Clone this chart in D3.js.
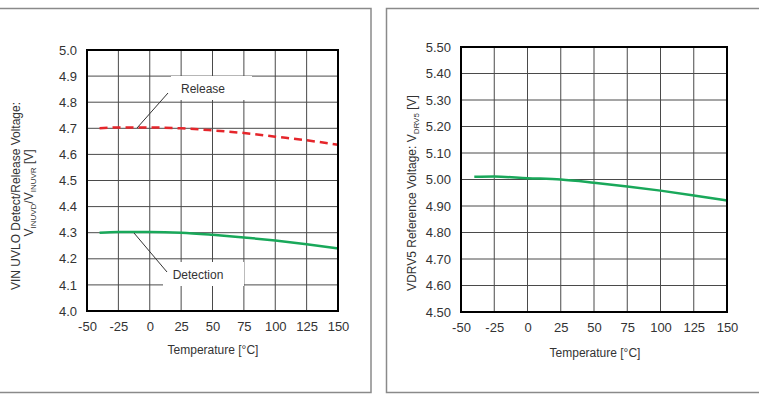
<!DOCTYPE html>
<html><head><meta charset="utf-8">
<script src="https://cdn.jsdelivr.net/npm/d3@7"></script>
<style>
body{margin:0;background:#fff;}
svg{display:block;font-family:"Liberation Sans",Arial,sans-serif;}
</style></head>
<body>
<svg id="c" width="759" height="394"></svg>
<script>
// ---------- data ----------
const temps = [-40, -25, 0, 25, 50, 75, 100, 125, 150];
const releaseV = [4.700, 4.703, 4.703, 4.700, 4.692, 4.682, 4.668, 4.654, 4.637];
const detectV  = [4.300, 4.303, 4.303, 4.300, 4.292, 4.282, 4.270, 4.256, 4.240];
const vdrv5V   = [5.010, 5.011, 5.005, 5.000, 4.988, 4.974, 4.958, 4.940, 4.921];
const xTicks = [-50, -25, 0, 25, 50, 75, 100, 125, 150];
const yTicksL = [4.0, 4.1, 4.2, 4.3, 4.4, 4.5, 4.6, 4.7, 4.8, 4.9, 5.0];
const yTicksR = [4.5, 4.6, 4.7, 4.8, 4.9, 5.0, 5.1, 5.2, 5.3, 5.4, 5.5];

const svg = d3.select("#c");
const RED = "#e5262b", GREEN = "#19a85a";
const FONT = "Liberation Sans, Arial, sans-serif";

// panel borders
svg.append("rect").attr("x", -2).attr("y", 8.5).attr("width", 373).attr("height", 384)
  .attr("fill", "none").attr("stroke", "#8a8a8a").attr("stroke-width", 1.5);
svg.append("rect").attr("x", 386.5).attr("y", 8.5).attr("width", 380).attr("height", 384)
  .attr("fill", "none").attr("stroke", "#8a8a8a").attr("stroke-width", 1.5);

function panel(o) {
  const x = d3.scaleLinear().domain([-50, 150]).range([o.l, o.r]);
  const y = d3.scaleLinear().domain(o.yDomain).range([o.b, o.t]);
  const g = svg.append("g");
  g.selectAll(".gx").data(xTicks).join("line")
    .attr("x1", d => x(d)).attr("x2", d => x(d)).attr("y1", o.t).attr("y2", o.b)
    .attr("stroke", "#4a4a4a").attr("stroke-width", 1);
  g.selectAll(".gy").data(o.yTicks).join("line")
    .attr("y1", d => y(d)).attr("y2", d => y(d)).attr("x1", o.l).attr("x2", o.r)
    .attr("stroke", "#4a4a4a").attr("stroke-width", 1);
  (o.notes || []).forEach(n => {
    g.append("rect").attr("x", n.bx).attr("y", n.by).attr("width", n.bw).attr("height", n.bh).attr("fill", "#fff");
  });
  const line = d3.line().x((d, i) => x(temps[i])).y(d => y(d)).curve(d3.curveMonotoneX);
  o.series.forEach(s => {
    g.append("path").datum(s.values).attr("d", line).attr("fill", "none")
      .attr("stroke", s.color).attr("stroke-width", 2.5)
      .attr("stroke-dasharray", s.dash || null);
  });
  (o.notes || []).forEach(n => {
    g.append("line").attr("x1", n.lx1).attr("y1", n.ly1).attr("x2", n.lx2).attr("y2", n.ly2)
      .attr("stroke", "#333").attr("stroke-width", 1);
    g.append("text").attr("x", n.tx).attr("y", n.ty).attr("text-anchor", "middle")
      .attr("dominant-baseline", "central").attr("font-size", 12).attr("fill", "#333").text(n.text);
  });
  g.append("rect").attr("x", o.l).attr("y", o.t).attr("width", o.r - o.l).attr("height", o.b - o.t)
    .attr("fill", "none").attr("stroke", "#000").attr("stroke-width", 2);
  const ax = d3.axisBottom(x).tickValues(xTicks).tickSize(0).tickPadding(11).tickFormat(d => String(d));
  const axg = g.append("g").attr("transform", `translate(0,${o.b})`).call(ax);
  const ay = d3.axisLeft(y).tickValues(o.yTicks).tickSize(0).tickPadding(10).tickFormat(d => d.toFixed(o.dec));
  const ayg = g.append("g").attr("transform", `translate(${o.l},0)`).call(ay);
  [axg, ayg].forEach(a => {
    a.attr("font-family", FONT).attr("font-size", 13);
    a.select(".domain").remove();
    a.selectAll("text").attr("font-size", 13).attr("fill", "#333");
  });
  g.append("text").attr("x", o.xtx).attr("y", o.xty).attr("text-anchor", "middle")
    .attr("font-size", 12).attr("fill", "#333").text("Temperature [°C]");
  return g;
}

panel({
  l: 87, r: 338, t: 50, b: 311, yDomain: [4.0, 5.0], yTicks: yTicksL, dec: 1,
  series: [{values: releaseV, color: RED, dash: "8,5"}, {values: detectV, color: GREEN}],
  notes: [
    {bx: 171, by: 76, bw: 81, bh: 24, tx: 203, ty: 89, text: "Release", lx1: 168, ly1: 93, lx2: 137, ly2: 128},
    {bx: 163, by: 262, bw: 81, bh: 24, tx: 198, ty: 275, text: "Detection", lx1: 134, ly1: 233, lx2: 167, ly2: 272}
  ],
  xtx: 213, xty: 354
});
const t1 = svg.append("text").attr("transform", "translate(20,196) rotate(-90)")
  .attr("text-anchor", "middle").attr("font-size", 12).attr("fill", "#333");
t1.text("VIN UVLO Detect/Release Voltage:");
const t2 = svg.append("text").attr("transform", "translate(33,193) rotate(-90)")
  .attr("text-anchor", "middle").attr("font-size", 12).attr("fill", "#333");
t2.append("tspan").text("V");
t2.append("tspan").attr("font-size", 8).attr("dy", 3).text("INUVD");
t2.append("tspan").attr("dy", -3).text("/V");
t2.append("tspan").attr("font-size", 8).attr("dy", 3).text("INUVR");
t2.append("tspan").attr("dy", -3).text(" [V]");

panel({
  l: 461, r: 727, t: 47, b: 312, yDomain: [4.5, 5.5], yTicks: yTicksR, dec: 2,
  series: [{values: vdrv5V, color: GREEN}],
  xtx: 595, xty: 357
});
const t3 = svg.append("text").attr("transform", "translate(416,193) rotate(-90)")
  .attr("text-anchor", "middle").attr("font-size", 12).attr("fill", "#333");
t3.append("tspan").text("VDRV5 Reference Voltage: V");
t3.append("tspan").attr("font-size", 8).attr("dy", 3).text("DRV5");
t3.append("tspan").attr("dy", -3).text(" [V]");
</script>
</body></html>
